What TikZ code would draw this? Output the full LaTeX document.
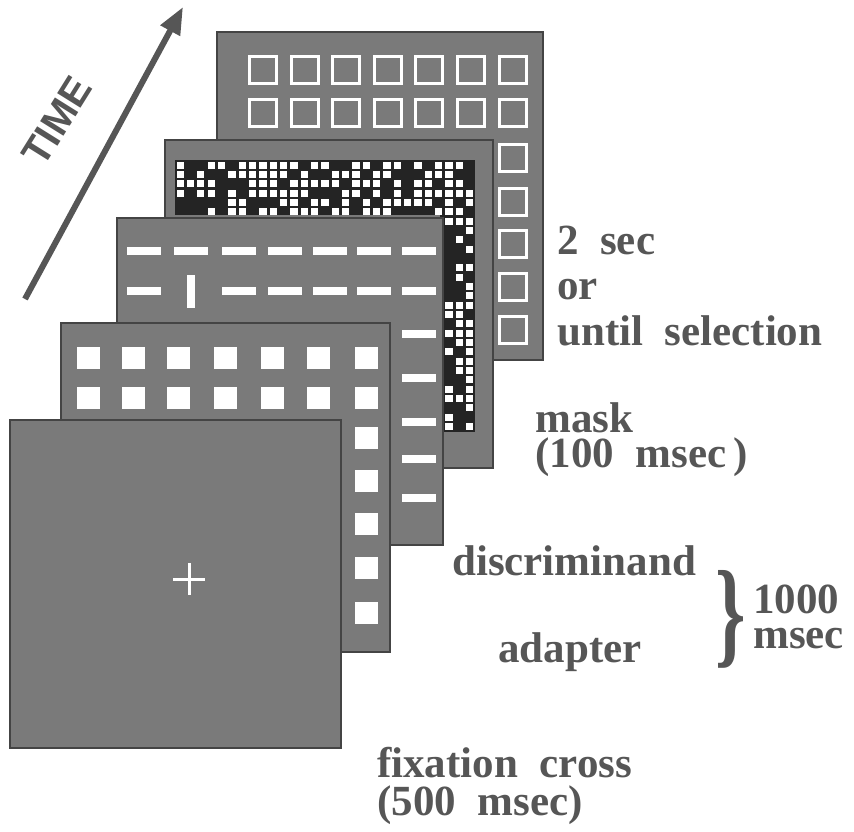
\documentclass[tikz,border=0pt]{standalone}
\usepackage{fontspec}
\usepackage{graphicx}
\setmainfont{Liberation Serif}
\setsansfont{Liberation Sans}
\usetikzlibrary{arrows.meta}
\definecolor{panel}{RGB}{122,122,122}
\definecolor{edge}{RGB}{68,68,68}
\definecolor{maskbg}{RGB}{36,36,36}
\definecolor{ink}{RGB}{86,86,86}
\begin{document}
\begin{tikzpicture}[x=1pt,y=-1pt,
  panelbox/.style={fill=panel, draw=edge, line width=1.5pt},
  hsq/.style={draw=white, line width=2.6pt},
  lbl/.style={anchor=base west, inner sep=0, text=ink, font=\fontsize{43}{43}\selectfont\bfseries}]
\useasboundingbox (0,0) rectangle (854,832);

% --- panel 5: 2 sec or until selection
\draw[panelbox] (217,32) rectangle (543,360);
\foreach \x in {248,290,331,373,414,456,498}
  \foreach \y in {55,98}
    \draw[hsq] (\x+1.3,\y+1.3) rectangle +(27.4,27.4);
\foreach \y in {143,187,229,272,315}
  \draw[hsq] (499.3,\y+1.3) rectangle +(27.4,27.4);

% --- panel 4: mask
\draw[panelbox] (165,140) rectangle (493,468);
\fill[maskbg] (175,160) rectangle (475,215);
\fill[maskbg] (440,160) rectangle (475,432);
\pgfmathsetseed{2024}
\foreach \r in {0,...,28} {
  \foreach \c in {0,...,28} {
    \pgfmathtruncatemacro\show{(\r<6)||(\c>25)}
    \ifnum\show=1
      \pgfmathrandominteger{\rr}{0}{99}
      \ifnum\rr<58
        \fill[white] (176.6+\c*10.34,161.6+\r*9.34) rectangle +(7.2,7.0);
      \fi
    \fi
  }
}

% --- panel 3: discriminand
\draw[panelbox] (117,218) rectangle (443,545);
\foreach \x in {127,174,222,268,313,357,402}
  \fill[white] (\x,247) rectangle +(34,8);
\foreach \x in {127,222,268,313,357,402}
  \fill[white] (\x,287) rectangle +(34,8);
\fill[white] (187,275) rectangle (195,308);
\foreach \y in {330,374,418,455,494}
  \fill[white] (402,\y) rectangle +(34,8);

% --- panel 2: adapter
\draw[panelbox] (61,323) rectangle (390,652);
\foreach \x in {77,122,167,214,261,307,355}
  \foreach \y in {347,387}
    \fill[white] (\x,\y) rectangle +(23,22);
\foreach \y in {427,470,513,557,602}
  \fill[white] (355,\y) rectangle +(23,22);

% --- panel 1: fixation cross
\draw[panelbox] (10,420) rectangle (341,748);
\draw[white, line width=3pt] (173,579) -- (205,579) (189,563) -- (189,595);

% --- time arrow
\coordinate (tail) at (25,299);
\coordinate (tip) at (183,7);
\draw[ink, line width=6pt, -{Triangle[length=27pt,width=21pt]}] (tail) -- (tip);
\node[rotate=58, text=ink, inner sep=0, font=\sffamily\bfseries\fontsize{40}{40}\selectfont] (time) at (57,121) {TIME};

% --- labels
\node[lbl] (l2sec) at (557,254) {2\ \ sec};
\node[lbl] (lor) at (557,299) {or};
\node[lbl] (luntil) at (557,345) {until\ \ selection};
\node[lbl] (lmask) at (535,432) {mask};
\node[lbl] (lmaskt) at (535,467) {(100\ \ msec\,)};
\node[lbl] (ldisc) at (452,575) {discriminand};
\node[lbl] (ladapt) at (498,662) {adapter};
\node[text=ink, inner sep=0, font=\fontsize{43}{43}\selectfont\bfseries] (brace) at (731,619) {\scalebox{1.8}[2.75]{\}}};
\node[lbl] (l1000) at (753,613) {1000};
\node[lbl] (lmsec) at (753,648) {msec};
\node[lbl] (lfix) at (377,777) {fixation\ \ cross};
\node[lbl] (lfixt) at (377,815) {(500\ \ msec)};
\end{tikzpicture}
\end{document}
